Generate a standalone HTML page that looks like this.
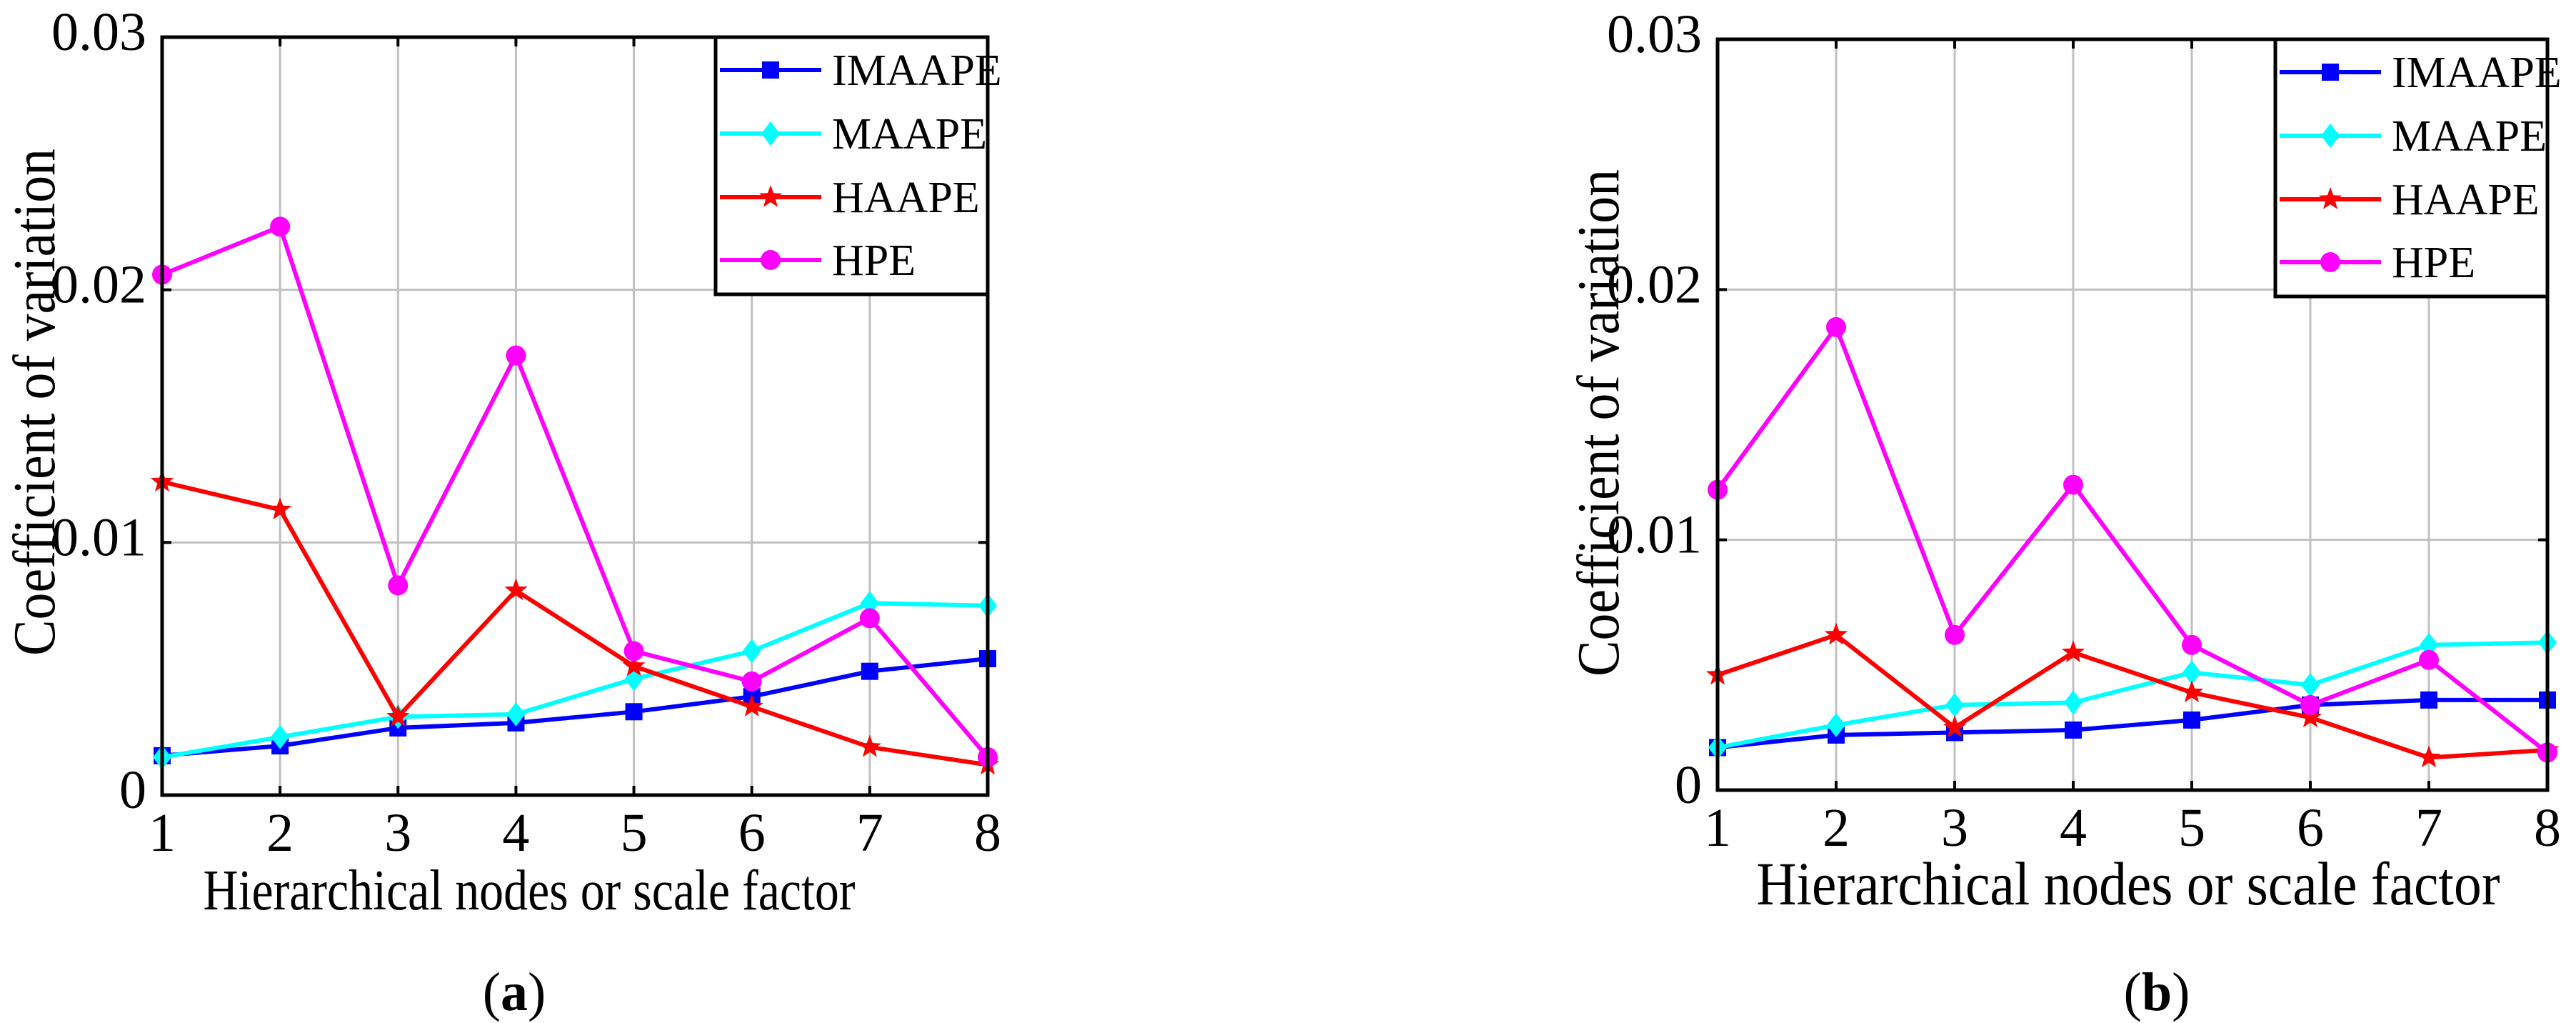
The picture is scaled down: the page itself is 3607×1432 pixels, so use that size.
<!DOCTYPE html>
<html><head><meta charset="utf-8"><style>
html,body{margin:0;padding:0;background:#fff;}
svg{display:block;}
svg text{font-family:"Liberation Serif","DejaVu Serif",serif;}
</style></head><body>
<svg id="fig" width="3607" height="1432" viewBox="0 0 3607 1432" xmlns="http://www.w3.org/2000/svg" font-family="Liberation Serif, serif"></svg>
<script>
const categories = [1,2,3,4,5,6,7,8];
const yTicks = [0,0.01,0.02,0.03];
const yTickLabels = ["0","0.01","0.02","0.03"];
const seriesNames = ["IMAAPE","MAAPE","HAAPE","HPE"];
const aIMAAPE = [0.00156,0.00195,0.00266,0.00286,0.0033,0.0039,0.0049,0.0054];
const aMAAPE  = [0.0015,0.0023,0.0031,0.0032,0.0046,0.0057,0.0076,0.0075];
const aHAAPE  = [0.0124,0.0113,0.0031,0.0081,0.0051,0.0035,0.0019,0.0012];
const aHPE    = [0.0206,0.0225,0.0083,0.0174,0.0057,0.0045,0.0070,0.0015];
const bIMAAPE = [0.0017,0.0022,0.0023,0.0024,0.0028,0.0034,0.0036,0.0036];
const bMAAPE  = [0.0017,0.0026,0.0034,0.0035,0.0047,0.0042,0.0058,0.0059];
const bHAAPE  = [0.0046,0.0062,0.0025,0.0055,0.0039,0.0029,0.0013,0.0016];
const bHPE    = [0.0120,0.0185,0.0062,0.0122,0.0058,0.0034,0.0052,0.0015];

const NS="http://www.w3.org/2000/svg";
const svg=document.getElementById('fig');
const colors=["#0000ff","#00ffff","#ff0000","#ff00ff"];
const markers=["square","diamond","star","circle"];
function mk(tag,attrs,parent){const e=document.createElementNS(NS,tag);for(const k in attrs)e.setAttribute(k,attrs[k]);(parent||svg).appendChild(e);return e;}
function marker(g,type,x,y,c){
  let e;
  if(type==="square"){e=mk('rect',{x:x-12,y:y-12,width:24,height:24,fill:c},g);}
  else if(type==="diamond"){e=mk('polygon',{points:`${x},${y-17} ${x+13},${y} ${x},${y+17} ${x-13},${y}`,fill:c},g);}
  else if(type==="circle"){e=mk('circle',{cx:x,cy:y,r:14,fill:c},g);}
  else {let p=[];for(let i=0;i<10;i++){const r=i%2?7:17;const a=-Math.PI/2+i*Math.PI/5;p.push((x+r*Math.cos(a)).toFixed(1)+","+(y+r*Math.sin(a)).toFixed(1));}
    e=mk('polygon',{points:p.join(' '),fill:c},g);}
  
  
}
function panel(id,L,R,T,B,data,xtFont,xtX,xtW,ytX,ytY,lab,labX){
  const g=mk('g',{});
  
  
  const xs=v=>L+(v-1)/(categories.length-1)*(R-L);
  const ys=v=>B-(v-0)/0.03*(B-T);
  categories.forEach(c=>{const x=xs(c);
    if(c>1&&c<8){const l=mk('line',{x1:x,y1:T,x2:x,y2:B,stroke:'#c0c0c0','stroke-width':3},g);
      
      }
    const t=mk('text',{x:x,y:B+78,'font-size':76,'text-anchor':'middle'},g);t.textContent=c;
    
    
    mk('line',{x1:x,y1:B,x2:x,y2:B-13,stroke:'#000','stroke-width':4},g);
    mk('line',{x1:x,y1:T,x2:x,y2:T+13,stroke:'#000','stroke-width':4},g);
  });
  yTicks.forEach((v,i)=>{const y=ys(v);
    if(i>0&&i<3){const l=mk('line',{x1:L,y1:y,x2:R,y2:y,stroke:'#c0c0c0','stroke-width':3},g);
      
      }
    const t=mk('text',{x:L-22,y:y+18,'font-size':76,'text-anchor':'end'},g);t.textContent=yTickLabels[i];
    
    
    mk('line',{x1:L,y1:y,x2:L+13,y2:y,stroke:'#000','stroke-width':4},g);
    mk('line',{x1:R,y1:y,x2:R-13,y2:y,stroke:'#000','stroke-width':4},g);
  });
  data.forEach((arr,si)=>{
    const pts=arr.map((v,i)=>xs(categories[i]).toFixed(1)+","+ys(v).toFixed(1)).join(' ');
    const pl=mk('polyline',{points:pts,fill:'none',stroke:colors[si],'stroke-width':6,'stroke-linejoin':'round'},g);
    
    
    arr.forEach((v,i)=>marker(g,markers[si],xs(categories[i]),ys(v),colors[si]));
  });
  const fr=mk('rect',{x:L,y:T,width:R-L,height:B-T,fill:'none',stroke:'#000','stroke-width':5},g);
  
  
  const lg=mk('g',{},g);
  
  
  const LL=R-381;
  mk('rect',{x:LL,y:T,width:381,height:360,fill:'#fff',stroke:'#000','stroke-width':5},lg);
  const rows=[98,187,276,364].map(v=>v-52+T);
  seriesNames.forEach((n,i)=>{
    const e=mk('g',{},lg);
    
    
    mk('line',{x1:LL+6,y1:rows[i],x2:LL+148,y2:rows[i],stroke:colors[i],'stroke-width':6},e);
    marker(e,markers[i],LL+77,rows[i],colors[i]);
    const t=mk('text',{x:LL+163,y:rows[i]+21,'font-size':62},e);t.textContent=n;
  });
  const xt=mk('text',{x:xtX,y:B+160,'font-size':xtFont,'text-anchor':'middle',textLength:xtW,lengthAdjust:'spacingAndGlyphs'},g);
  xt.textContent='Hierarchical nodes or scale factor';
  
  
  const yt=mk('text',{x:0,y:0,'font-size':84,'text-anchor':'middle',transform:`translate(${ytX},${ytY}) rotate(-90)`,textLength:710,lengthAdjust:'spacingAndGlyphs'},g);
  yt.textContent='Coefficient of variation';
  
  
  const pl=mk('text',{x:labX,y:1414,'font-size':76,'text-anchor':'middle'},g);
  pl.innerHTML='(<tspan font-weight="bold">'+lab+'</tspan>)';
  
  
}
panel('a',227,1383,52,1113,[aIMAAPE,aMAAPE,aHAAPE,aHPE],80,741,913,76,563,'a',720);
panel('b',2405,3567,55,1106,[bIMAAPE,bMAAPE,bHAAPE,bHPE],86,2980,1041,2266,592,'b',3020);
</script>
</body></html>
